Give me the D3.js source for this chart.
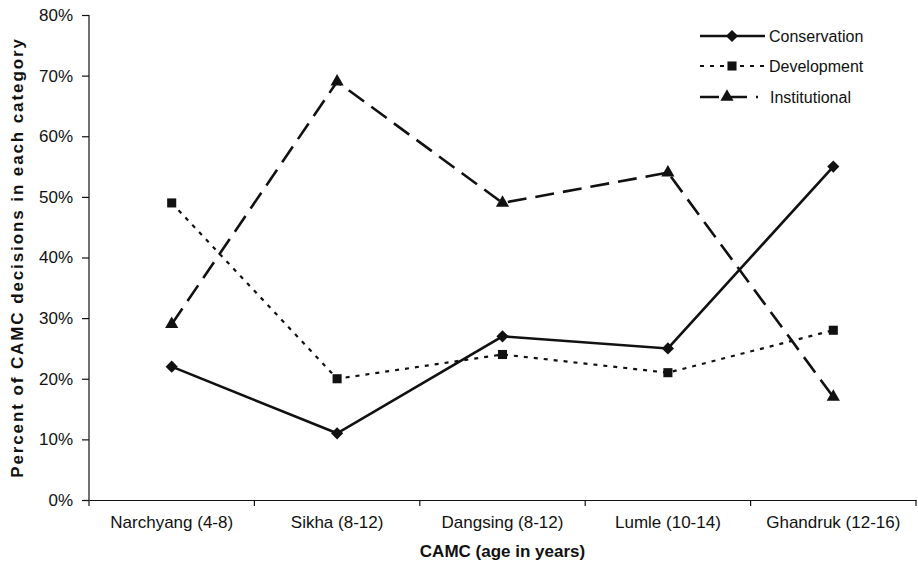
<!DOCTYPE html>
<html><head><meta charset="utf-8">
<script src="https://cdn.jsdelivr.net/npm/d3@7"></script>
<style>body{margin:0;background:#fff}svg{display:block}text{font-family:"Liberation Sans",Arial,sans-serif;fill:#111}</style>
</head><body><svg id="c" width="918" height="566"></svg>
<script>
const categories = ["Narchyang (4-8)","Sikha (8-12)","Dangsing (8-12)","Lumle (10-14)","Ghandruk (12-16)"];
const conservation = [22, 11, 27, 25, 55];
const development = [49, 20, 24, 21, 28];
const institutional = [29, 69, 49, 54, 17];
const yTicks = [0,10,20,30,40,50,60,70,80];
const seriesNames = ["Conservation","Development","Institutional"];

const svg = d3.select("#c");
const m = {l:89, r:916, t:15, b:500};
const x = d3.scaleBand().domain(categories).range([m.l, m.r]);
const y = d3.scaleLinear().domain([0,80]).range([m.b, m.t]);

const series = [
  {name:seriesNames[0], values:conservation, dash:null, w:2.6, sym:d3.symbolDiamond2, size:95},
  {name:seriesNames[1], values:development, dash:"4,6", w:2.2, sym:d3.symbolSquare2, size:105},
  {name:seriesNames[2], values:institutional, dash:"19,9", w:2.6, sym:d3.symbolTriangle2, size:125}
];

// axes
const yAxis = svg.append("g").attr("transform",`translate(${m.l},0)`)
  .call(d3.axisLeft(y).tickValues(yTicks).tickFormat(d=>d+"%").tickSizeOuter(0).tickSize(7).tickPadding(9));
const xAxis = svg.append("g").attr("transform",`translate(0,${m.b})`)
  .call(d3.axisBottom(x).tickSize(0).tickSizeOuter(0).tickPadding(16));
xAxis.selectAll(".bt").data(d3.range(categories.length+1)).enter().append("line")
  .attr("x1",i=>m.l+i*x.step()).attr("x2",i=>m.l+i*x.step()).attr("y1",0).attr("y2",6).attr("stroke","#111");
[yAxis,xAxis].forEach(g=>{
  g.selectAll("path,line").attr("stroke","#111").attr("stroke-width",1.2);
  g.selectAll("text").style("font-size","17px").attr("fill","#111");
});
yAxis.select(".domain").attr("d",`M0,${m.t}V${m.b}`);

const cx = i => x(categories[i]) + x.bandwidth()/2;
const line = d3.line().x((d,i)=>cx(i)).y(d=>y(d));

series.forEach(s=>{
  svg.append("path").attr("d",line(s.values)).attr("fill","none").attr("stroke","#111")
    .attr("stroke-width",s.w).attr("stroke-dasharray",s.dash);
  svg.selectAll(null).data(s.values).enter().append("path")
    .attr("d",d3.symbol(s.sym,s.size)).attr("fill","#111")
    .attr("transform",(d,i)=>`translate(${cx(i)},${y(d)})`);
});

// legend
const ly = [36, 66, 97];
series.forEach((s,i)=>{
  const g = svg.append("g").attr("transform",`translate(700,${ly[i]})`);
  g.append("line").attr("x1",0).attr("x2",i===2?58:65).attr("y1",0).attr("y2",0)
    .attr("stroke","#111").attr("stroke-width",s.w).attr("stroke-dasharray",s.dash);
  g.append("path").attr("d",d3.symbol(s.sym,s.size)).attr("fill","#111").attr("transform",`translate(${i===2?27:32},0)`);
  g.append("text").attr("x",i===2?70:69).attr("y",6).text(s.name).style("font-size","16px");
});

// titles
svg.append("text").attr("x",(m.l+m.r)/2).attr("y",557).attr("text-anchor","middle")
  .style("font-size","17px").style("font-weight","bold").text("CAMC (age in years)");
svg.append("text").attr("transform",`translate(23,${(m.t+m.b)/2}) rotate(-90)`).attr("text-anchor","middle")
  .style("font-size","17px").style("font-weight","bold").style("letter-spacing","1.9px")
  .text("Percent of CAMC decisions in each category");
</script></body></html>
